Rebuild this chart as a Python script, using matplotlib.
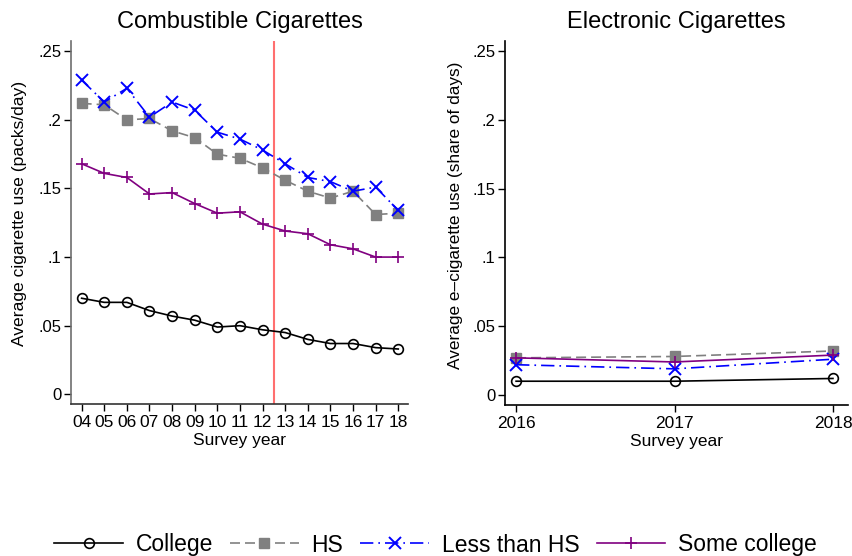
import matplotlib
matplotlib.use("Agg")
import matplotlib.pyplot as plt
from matplotlib.lines import Line2D

plt.rcParams['font.family'] = ['Liberation Sans', 'DejaVu Sans']

# ---- data ----
years_comb = [4, 5, 6, 7, 8, 9, 10, 11, 12, 13, 14, 15, 16, 17, 18]
year_labels_comb = ["04", "05", "06", "07", "08", "09", "10", "11", "12", "13", "14", "15", "16", "17", "18"]
college_comb = [0.070, 0.067, 0.067, 0.061, 0.057, 0.054, 0.049, 0.050, 0.047, 0.045, 0.040, 0.037, 0.037, 0.034, 0.033]
hs_comb = [0.212, 0.211, 0.200, 0.201, 0.192, 0.187, 0.175, 0.172, 0.165, 0.156, 0.148, 0.143, 0.148, 0.131, 0.132]
lths_comb = [0.229, 0.213, 0.223, 0.202, 0.213, 0.207, 0.191, 0.186, 0.178, 0.168, 0.158, 0.155, 0.148, 0.151, 0.134]
somecol_comb = [0.168, 0.161, 0.158, 0.146, 0.147, 0.139, 0.132, 0.133, 0.124, 0.119, 0.117, 0.109, 0.106, 0.100, 0.100]

years_ecig = [2016, 2017, 2018]
college_ecig = [0.010, 0.010, 0.012]
hs_ecig = [0.027, 0.028, 0.032]
lths_ecig = [0.022, 0.019, 0.026]
somecol_ecig = [0.027, 0.024, 0.029]

policy_year = 12.5
yticks = [0, 0.05, 0.10, 0.15, 0.20, 0.25]
ytick_labels = ["0", ".05", ".1", ".15", ".2", ".25"]
series_names = ["College", "HS", "Less than HS", "Some college"]

styles = [
    dict(color="black", linestyle="-", marker="o", markerfacecolor="none", markeredgecolor="black", markersize=7, markeredgewidth=1.2),
    dict(color="#808080", linestyle=(0, (6, 3)), marker="s", markerfacecolor="#808080", markeredgecolor="#808080", markersize=7),
    dict(color="#0000ff", linestyle=(0, (8, 3, 1, 3)), marker="x", markeredgecolor="#0000ff", markersize=8, markeredgewidth=1.4),
    dict(color="#800080", linestyle="-", marker="+", markeredgecolor="#800080", markersize=9, markeredgewidth=1.2),
]

fig = plt.figure(figsize=(8.52, 5.56), dpi=100)
ax1 = fig.add_axes([71/852, 1 - 404.3/556, (408-71)/852, (404.3-40.7)/556])
ax2 = fig.add_axes([505/852, 1 - 405/556, (848-505)/852, (405-40.7)/556])

for vals, st in zip([college_comb, hs_comb, lths_comb, somecol_comb], styles):
    ax1.plot(years_comb, vals, linewidth=1.2, **st)
ax1.axvline(policy_year, color="#ff6f6f", linewidth=1.5, zorder=0.5)

for vals, st in zip([college_ecig, hs_ecig, lths_ecig, somecol_ecig], styles):
    ax2.plot(years_ecig, vals, linewidth=1.2, **st)

for ax, spc in [(ax1, "#6e6e6e"), (ax2, "black")]:
    ax.spines['top'].set_visible(False)
    ax.spines['right'].set_visible(False)
    ax.spines['left'].set_color(spc)
    ax.spines['bottom'].set_color("#333333" if ax is ax1 else "black")
    ax.spines['left'].set_linewidth(1.2)
    ax.spines['bottom'].set_linewidth(1.2)
    ax.set_ylim(-0.0073, 0.2577)
    ax.set_yticks(yticks)
    ax.set_yticklabels(ytick_labels)
    ax.tick_params(axis='y', labelsize=12, length=5, width=1, pad=2)
    ax.tick_params(axis='x', labelsize=12.5, length=5, width=1, pad=3)
    ax.set_xlabel("Survey year", fontsize=12.5, labelpad=2)

ax1.set_xlim(3.53, 18.43)
ax1.set_xticks(years_comb)
ax1.set_xticklabels(year_labels_comb)
ax1.set_ylabel("Average cigarette use (packs/day)", fontsize=12.6)
ax1.yaxis.set_label_coords(-0.13, 0.525)
ax1.set_title("Combustible Cigarettes", fontsize=17, pad=9)

ax2.set_xlim(2015.93, 2018.095)
ax2.set_xticks(years_ecig)
ax2.set_xticklabels([str(y) for y in years_ecig])
ax2.set_ylabel("Average e\u2013cigarette use (share of days)", fontsize=12.4)
ax2.yaxis.set_label_coords(-0.123, 0.522)
ax2.set_title("Electronic Cigarettes", fontsize=17, pad=9)

handles = [Line2D([], [], linewidth=1.2, **st) for st in styles]
fig.legend(handles, series_names, loc="center", bbox_to_anchor=(0.511, 1 - 545/556),
           ncol=4, frameon=False, fontsize=16.5, handlelength=3.0, handletextpad=0.55,
           columnspacing=0.75)

fig.savefig("out.png", dpi=100, facecolor="white")
